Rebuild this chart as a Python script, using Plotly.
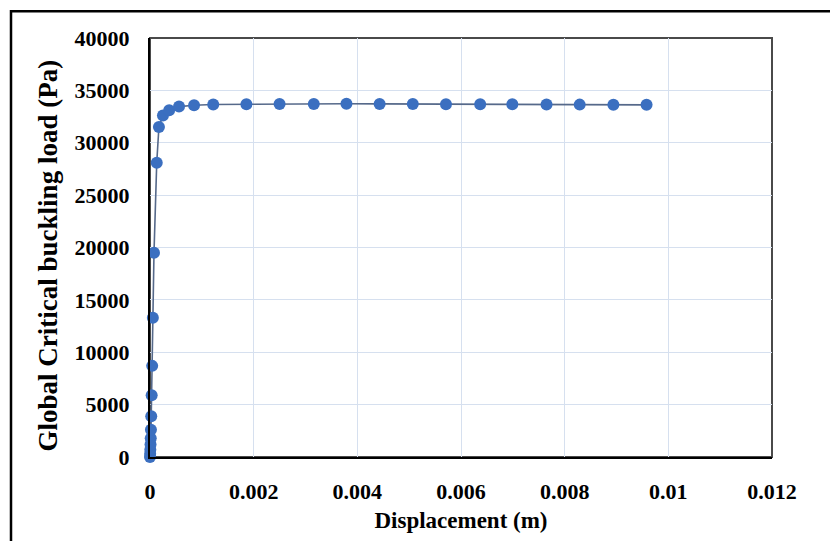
import plotly.graph_objects as go

# Data
displacement_m = [0, 0.000003, 0.000006, 0.00001, 0.000014, 0.000018, 0.000024, 0.000032,
                  0.000042, 0.000055, 0.000077, 0.000130, 0.000172, 0.00025, 0.00037,
                  0.00056, 0.00085, 0.00122, 0.00186, 0.00250, 0.00316, 0.00379, 0.00443,
                  0.00507, 0.00571, 0.00637, 0.00699, 0.00765, 0.00829, 0.00894, 0.00958]
buckling_load_pa = [0, 300, 700, 1200, 1800, 2600, 3900, 5900,
                    8700, 13300, 19500, 28100, 31500, 32600, 33100,
                    33450, 33580, 33650, 33680, 33690, 33700, 33720, 33710,
                    33690, 33680, 33680, 33670, 33650, 33640, 33630, 33620]

x_tick_vals = [0, 0.002, 0.004, 0.006, 0.008, 0.01, 0.012]
x_tick_text = ["0", "0.002", "0.004", "0.006", "0.008", "0.01", "0.012"]
y_tick_vals = [0, 5000, 10000, 15000, 20000, 25000, 30000, 35000, 40000]

x_title = "Displacement (m)"
y_title = "Global Critical buckling load (Pa)"

FONT = "Liberation Serif"

fig = go.Figure()
fig.add_trace(go.Scatter(
    x=displacement_m, y=buckling_load_pa, mode="lines+markers",
    line=dict(color="#56698a", width=1.6),
    marker=dict(color="#3b6fc0", size=12, line=dict(width=0)),
    cliponaxis=False, showlegend=False,
))

W, H = 830, 541
L, R, T, B = 150, 58, 38, 79
pw, ph = W - L - R, H - T - B

def px_x(p):
    return (p - L) / pw

def px_y(p):
    return (H - B - p) / ph

fig.update_layout(
    width=W, height=H,
    margin=dict(l=L, r=R, t=T, b=B),
    paper_bgcolor="white", plot_bgcolor="white",
    font=dict(family=FONT, color="black"),
    xaxis=dict(
        range=[0, 0.012], tickvals=x_tick_vals, ticktext=x_tick_text,
        showgrid=True, gridcolor="#d6e0ef", gridwidth=1,
        showline=True, linecolor="black", linewidth=2,
        zeroline=False, ticks="", ticklabelstandoff=14,
        tickfont=dict(family=FONT, size=22, weight="bold", color="black"),
        title=dict(text=x_title, standoff=8,
                   font=dict(family=FONT, size=23, weight="bold", color="black")),
    ),
    yaxis=dict(
        range=[0, 40000], tickvals=y_tick_vals, tickformat="d",
        showgrid=True, gridcolor="#d6e0ef", gridwidth=1,
        showline=True, linecolor="black", linewidth=2,
        zeroline=False, ticks="", ticklabelstandoff=14,
        tickfont=dict(family=FONT, size=22, weight="bold", color="black"),
    ),
    annotations=[
        dict(text=y_title, xref="paper", yref="paper", x=px_x(48), y=px_y(258),
             xanchor="center", yanchor="middle", textangle=-90, showarrow=False,
             font=dict(family=FONT, size=27, weight="bold", color="black")),
    ],
    shapes=[
        dict(type="rect", xref="paper", yref="paper", x0=0, x1=1, y0=0, y1=1,
             line=dict(color="#4a4a4a", width=2), layer="below"),
        dict(type="rect", xref="paper", yref="paper",
             x0=px_x(11), x1=px_x(840), y0=px_y(560), y1=px_y(11),
             line=dict(color="black", width=2.5)),
    ],
)

fig.write_html("out.html")
